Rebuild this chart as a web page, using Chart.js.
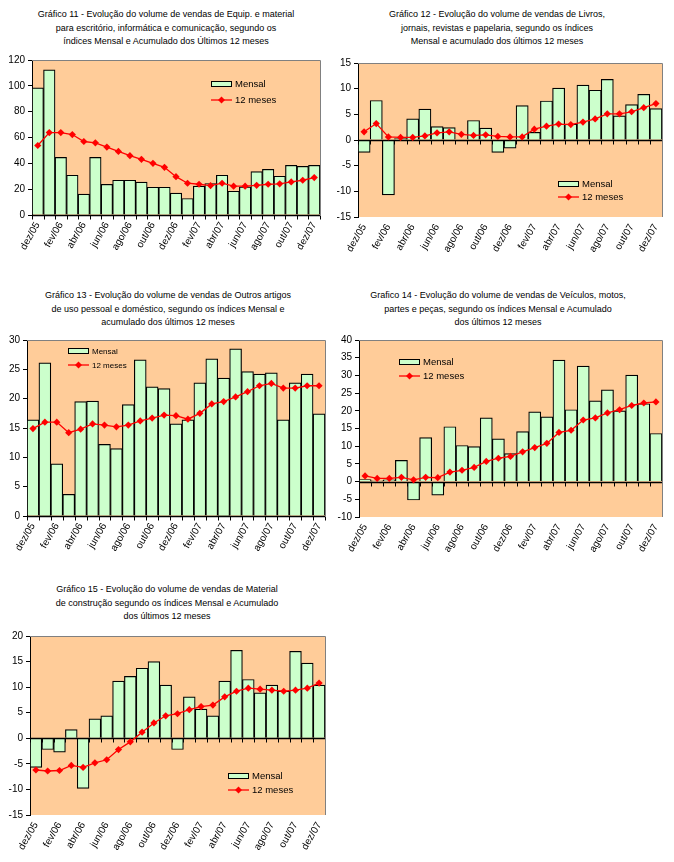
<!DOCTYPE html>
<html>
<head>
<meta charset="utf-8">
<script src="https://cdn.jsdelivr.net/npm/chart.js@4.4.1/dist/chart.umd.min.js"></script>
<style>
  html, body { margin: 0; padding: 0; background: #fff; }
  #page { position: relative; width: 674px; height: 862px; overflow: hidden;
          font-family: 'Liberation Sans', Arial, sans-serif; }
  .titulo { position: absolute; width: 337px; text-align: center; font-size: 9px;
            line-height: 13.5px; color: #000; white-space: nowrap; }
  canvas { position: absolute; }
</style>
</head>
<body>
<div id="page"></div>
<script>
// Categorias (meses) — rótulos mostrados a cada 2 meses
const meses = ['dez/05','jan/06','fev/06','mar/06','abr/06','mai/06','jun/06','jul/06','ago/06','set/06','out/06','nov/06',
               'dez/06','jan/07','fev/07','mar/07','abr/07','mai/07','jun/07','jul/07','ago/07','set/07','out/07','nov/07','dez/07'];

// Gráfico 11 — Equip. e material para escritório, informática e comunicação
const mensal11 = [98.5,112.3,44.6,30.8,16.2,44.6,23.8,26.9,26.9,25.4,21.5,21.5,16.9,12.8,22.3,24.4,30.8,18.4,21.8,33.6,35.4,30.0,38.5,37.7,38.5];
const acum11   = [53.8,63.8,63.8,62.3,56.9,55.9,52.6,49.2,45.9,43.1,40.0,36.9,29.7,24.6,23.8,22.8,24.6,22.3,22.3,23.0,23.8,24.1,25.6,26.9,29.0];

// Gráfico 12 — Livros, jornais, revistas e papelaria
const mensal12 = [-2.4,7.7,-10.7,0.3,4.1,6.0,2.6,2.4,-0.2,3.8,2.3,-2.4,-1.6,6.7,1.5,7.6,10.1,3.1,10.7,9.7,11.8,4.7,6.9,8.9,6.1];
const acum12   = [1.6,3.2,0.6,0.5,0.5,0.8,1.4,1.6,1.1,0.9,1.0,0.7,0.6,0.6,2.1,2.7,3.1,3.0,3.5,4.1,5.1,5.1,5.5,6.3,7.1];

// Gráfico 13 — Outros artigos de uso pessoal e doméstico
const mensal13 = [16.4,26.1,8.9,3.7,19.5,19.6,12.2,11.5,19.0,26.6,22.0,21.7,15.7,16.4,22.7,26.8,23.5,28.5,24.6,24.2,24.4,16.4,22.7,24.2,17.4];
const acum13   = [14.9,16.0,16.0,14.2,14.8,15.7,15.5,15.2,15.5,16.2,16.7,17.2,17.1,16.5,17.5,19.1,19.5,20.3,21.2,22.2,22.6,21.8,21.8,22.2,22.2];

// Gráfico 14 — Veículos, motos, partes e peças
const mensal14 = [0.6,0.2,0.5,6.0,-5.2,12.4,-3.8,15.5,10.2,9.9,18.0,12.1,7.9,14.1,19.7,18.3,34.3,20.3,32.6,22.8,25.9,20.0,30.1,22.0,13.6];
const acum14   = [1.6,0.9,0.9,1.2,0.5,1.2,1.1,2.7,3.2,4.0,5.7,6.6,7.1,8.4,9.6,10.8,13.9,14.5,17.4,18.0,19.4,20.3,21.5,22.2,22.5];

// Gráfico 15 — Material de construção
const mensal15 = [-5.7,-2.2,-2.7,1.7,-9.8,3.8,4.4,11.2,12.1,13.7,15.0,10.4,-2.2,8.1,5.7,4.4,11.2,17.2,11.5,8.9,10.4,9.2,17.0,14.7,10.4];
const acum15   = [-6.2,-6.4,-6.3,-5.3,-5.7,-4.8,-4.2,-2.2,-0.7,1.2,3.0,4.4,4.8,5.6,6.2,6.5,8.1,9.2,9.8,9.6,9.4,9.2,9.4,9.8,10.8];

const titulo11 = ['Gráfico 11 - Evolução do volume de vendas de Equip. e material',
                  'para escritório, informática e comunicação, segundo os',
                  'índices Mensal e Acumulado dos Últimos 12 meses'];
const titulo12 = ['Gráfico 12 - Evolução do volume de vendas de Livros,',
                  'jornais, revistas e papelaria, segundo os índices',
                  'Mensal e acumulado dos últimos 12 meses'];
const titulo13 = ['Gráfico 13 - Evolução do volume de vendas de Outros artigos',
                  'de uso pessoal e doméstico, segundo os índices Mensal e',
                  'acumulado dos últimos 12 meses'];
const titulo14 = ['Grafico 14 - Evolução do volume de vendas de Veículos, motos,',
                  'partes e peças, segundo os índices Mensal e Acumulado',
                  'dos últimos 12 meses'];
const titulo15 = ['Gráfico 15 - Evolução do volume de vendas de Material',
                  'de construção segundo os índices Mensal e Acumulado',
                  'dos últimos 12 meses'];

const FUNDO = '#FFCC99';
const BARRA = '#CCFFCC';
const LINHA = '#FF0000';

Chart.defaults.font.family = "'Liberation Sans', Arial, sans-serif";
Chart.defaults.font.size = 9;
Chart.defaults.color = '#000';
Chart.defaults.animation = false;

// Fundo laranja, moldura, linha do zero e legenda dentro da área do gráfico
const molduraPlugin = {
  id: 'moldura',
  beforeDraw(chart) {
    const a = chart.chartArea, ctx = chart.ctx;
    ctx.save();
    ctx.fillStyle = FUNDO;
    ctx.fillRect(a.left, a.top, a.right - a.left, a.bottom - a.top);
    ctx.restore();
  },
  afterDatasetDraw(chart, args) {
    if (args.meta.type !== 'bar') return;
    const a = chart.chartArea, ctx = chart.ctx;
    const ys = chart.scales.y;
    const y0 = Math.round(ys.getPixelForValue(0)) + 0.5;
    const passo = (a.right - a.left) / meses.length;
    ctx.save();
    ctx.strokeStyle = '#000';
    ctx.lineWidth = 1.6;
    ctx.beginPath();
    ctx.moveTo(a.left, y0); ctx.lineTo(a.right, y0);
    ctx.stroke();
    ctx.lineWidth = 1;
    ctx.beginPath();
    for (let i = 0; i <= meses.length; i++) {
      const x = Math.round(a.left + i * passo) + 0.5;
      ctx.moveTo(x, y0); ctx.lineTo(x, y0 + 4);
    }
    ctx.stroke();
    ctx.restore();
  },
  afterDraw(chart, args, opts) {
    const a = chart.chartArea, ctx = chart.ctx;
    ctx.save();
    ctx.strokeStyle = '#808080';
    ctx.lineWidth = 1;
    ctx.beginPath();
    ctx.moveTo(a.left, a.top + 0.5); ctx.lineTo(a.right + 0.5, a.top + 0.5); ctx.lineTo(a.right + 0.5, a.bottom);
    ctx.stroke();

    // legenda
    const lx = a.left + opts.dx, ly = a.top + opts.dy;
    ctx.fillStyle = BARRA;
    ctx.fillRect(lx, ly, 21, 6);
    ctx.strokeStyle = '#000';
    ctx.strokeRect(lx + 0.5, ly + 0.5, 20, 5);
    ctx.fillStyle = '#000';
    ctx.font = (opts.fonte || 9) + "px 'Liberation Sans', Arial, sans-serif";
    ctx.textBaseline = 'middle';
    ctx.fillText(chart.data.datasets[0].label, lx + 24, ly + 3.5);
    const l2 = ly + opts.gap;
    ctx.strokeStyle = LINHA;
    ctx.lineWidth = 1.3;
    ctx.beginPath();
    ctx.moveTo(lx, l2); ctx.lineTo(lx + 21, l2);
    ctx.stroke();
    ctx.fillStyle = LINHA;
    ctx.beginPath();
    ctx.moveTo(lx + 10.5, l2 - 3.5); ctx.lineTo(lx + 14, l2); ctx.lineTo(lx + 10.5, l2 + 3.5); ctx.lineTo(lx + 7, l2);
    ctx.closePath(); ctx.fill();
    ctx.fillStyle = '#000';
    ctx.fillText(chart.data.datasets[1].label, lx + 24, l2 + 0.5);
    ctx.restore();
  }
};

function criarGrafico(cfg) {
  const page = document.getElementById('page');

  const t = document.createElement('div');
  t.className = 'titulo';
  t.style.left = (cfg.tituloX - 168.5) + 'px';
  t.style.top = (cfg.tituloY - 6.75) + 'px';
  t.innerHTML = cfg.titulo.join('<br>');
  page.appendChild(t);

  const topo = cfg.plot.t - 8;
  const altura = cfg.plot.b - topo + 52;
  const cv = document.createElement('canvas');
  cv.width = 337; cv.height = altura;
  cv.style.left = cfg.col + 'px'; cv.style.top = topo + 'px';
  cv.style.width = '337px'; cv.style.height = altura + 'px';
  page.appendChild(cv);

  new Chart(cv, {
    type: 'bar',
    data: {
      labels: meses,
      datasets: [
        { type: 'bar', label: 'Mensal', data: cfg.mensal, order: 1,
          backgroundColor: BARRA, borderColor: '#000', borderWidth: 1.2,
          barPercentage: 1, categoryPercentage: 1 },
        { type: 'line', label: '12 meses', data: cfg.acum, order: 0,
          borderColor: LINHA, borderWidth: 1.3, backgroundColor: LINHA,
          pointStyle: 'rectRot', pointRadius: 3.6, pointBorderWidth: 0, tension: 0 }
      ]
    },
    options: {
      responsive: false,
      layout: { padding: { top: 8, right: cfg.col + 337 - cfg.plot.r, left: 0, bottom: 0 } },
      plugins: {
        legend: { display: false },
        tooltip: { enabled: false },
        moldura: cfg.legenda
      },
      scales: {
        x: {
          offset: true,
          grid: { display: true, drawOnChartArea: false, color: 'rgba(0,0,0,0)', tickLength: 3 },
          border: { display: false },
          ticks: {
            autoSkip: false, minRotation: 60, maxRotation: 60, padding: 2,
            font: { size: 10 },
            callback: function (v, i) { return i % 2 === 0 ? this.getLabelForValue(v) : ''; }
          },
          afterFit: function (s) { s.height = 52; }
        },
        y: {
          min: cfg.y[0], max: cfg.y[1],
          grid: { drawOnChartArea: false, color: '#000', tickLength: 4 },
          border: { display: true, color: '#000', width: 1 },
          ticks: { stepSize: cfg.y[2], padding: 3, font: { size: 10 } },
          afterFit: function (s) { s.width = cfg.plot.l - cfg.col; }
        }
      }
    },
    plugins: [molduraPlugin]
  });
}

criarGrafico({ col: 0, plot: { l: 32, t: 59, r: 320, b: 215 }, tituloX: 166, tituloY: 15,
  titulo: titulo11, mensal: mensal11, acum: acum11, y: [0, 120, 20],
  legenda: { dx: 179, dy: 21, gap: 19, fonte: 9.5 } });
criarGrafico({ col: 337, plot: { l: 358, t: 62, r: 662, b: 217 }, tituloX: 497, tituloY: 15,
  titulo: titulo12, mensal: mensal12, acum: acum12, y: [-15, 15, 5],
  legenda: { dx: 200, dy: 118, gap: 16, fonte: 9.5 } });
criarGrafico({ col: 0, plot: { l: 27, t: 339, r: 325, b: 516 }, tituloX: 168, tituloY: 296,
  titulo: titulo13, mensal: mensal13, acum: acum13, y: [0, 30, 5],
  legenda: { dx: 41, dy: 8, gap: 17, fonte: 8 } });
criarGrafico({ col: 337, plot: { l: 359, t: 339, r: 662, b: 517 }, tituloX: 498, tituloY: 296,
  titulo: titulo14, mensal: mensal14, acum: acum14, y: [-10, 40, 5],
  legenda: { dx: 40, dy: 19, gap: 17, fonte: 9.5 } });
criarGrafico({ col: 0, plot: { l: 30, t: 635, r: 325, b: 815 }, tituloX: 167, tituloY: 590,
  titulo: titulo15, mensal: mensal15, acum: acum15, y: [-15, 20, 5],
  legenda: { dx: 198, dy: 137, gap: 17, fonte: 9.5 } });
</script>
</body>
</html>
